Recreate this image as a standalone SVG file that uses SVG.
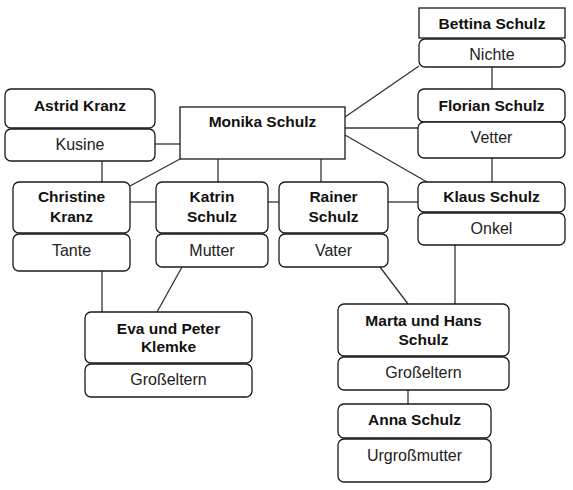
<svg xmlns="http://www.w3.org/2000/svg" width="573" height="490" viewBox="0 0 573 490">
<style>
.b{fill:#fff;stroke:#1a1a1a;stroke-width:1.3}
.n{font-family:"Liberation Sans",Arial,sans-serif;font-size:15.5px;font-weight:bold;fill:#111;text-anchor:middle}
.r{font-family:"Liberation Sans",Arial,sans-serif;font-size:16px;fill:#222;text-anchor:middle}
.c line{stroke:#333;stroke-width:1.3}
</style>
<rect width="573" height="490" fill="#fff"/>
<g class="c" id="connectors">
<line x1="155" y1="144" x2="180" y2="144"/>
<line x1="102" y1="161" x2="102" y2="182"/>
<line x1="130" y1="186" x2="180" y2="159"/>
<line x1="218" y1="159" x2="218" y2="182"/>
<line x1="321" y1="159" x2="321" y2="182"/>
<line x1="345" y1="117" x2="419" y2="66"/>
<line x1="345" y1="128" x2="418" y2="128"/>
<line x1="345" y1="135" x2="427" y2="182"/>
<line x1="492" y1="67" x2="492" y2="89"/>
<line x1="492" y1="158" x2="492" y2="182"/>
<line x1="130" y1="202" x2="156" y2="202"/>
<line x1="268" y1="202" x2="279" y2="202"/>
<line x1="388" y1="202" x2="418" y2="202"/>
<line x1="102" y1="271" x2="102" y2="312"/>
<line x1="182" y1="267" x2="157" y2="312"/>
<line x1="380" y1="267" x2="408" y2="304"/>
<line x1="455" y1="245" x2="455" y2="304"/>
<line x1="408" y1="390" x2="408" y2="404"/>
</g>
<g id="astrid">
<rect class="b" x="5" y="89" width="150" height="39" rx="6"/>
<text class="n" x="80" y="111">Astrid Kranz</text>
<rect class="b" x="5" y="129" width="150" height="32" rx="6"/>
<text class="r" x="80" y="150">Kusine</text>
</g>
<g id="monika">
<rect class="b" x="180" y="107" width="165" height="52"/>
<text class="n" x="262.5" y="127">Monika Schulz</text>
</g>
<g id="bettina">
<rect class="b" x="419" y="8" width="146" height="30"/>
<text class="n" x="492" y="29">Bettina Schulz</text>
<rect class="b" x="419" y="39" width="146" height="28" rx="6"/>
<text class="r" x="492" y="60">Nichte</text>
</g>
<g id="florian">
<rect class="b" x="418" y="89" width="147" height="33" rx="6"/>
<text class="n" x="491.5" y="111">Florian Schulz</text>
<rect class="b" x="418" y="122" width="147" height="36" rx="6"/>
<text class="r" x="491.5" y="143">Vetter</text>
</g>
<g id="klaus">
<rect class="b" x="418" y="182" width="147" height="30" rx="6"/>
<text class="n" x="491.5" y="202">Klaus Schulz</text>
<rect class="b" x="418" y="213" width="147" height="32" rx="6"/>
<text class="r" x="491.5" y="234">Onkel</text>
</g>
<g id="christine">
<rect class="b" x="13" y="182" width="117" height="51" rx="6"/>
<text class="n" x="71.5" y="202">Christine</text>
<text class="n" x="71.5" y="222">Kranz</text>
<rect class="b" x="13" y="234" width="117" height="37" rx="6"/>
<text class="r" x="71.5" y="256">Tante</text>
</g>
<g id="katrin">
<rect class="b" x="156" y="182" width="112" height="51" rx="6"/>
<text class="n" x="212" y="202">Katrin</text>
<text class="n" x="212" y="222">Schulz</text>
<rect class="b" x="156" y="234" width="112" height="33" rx="6"/>
<text class="r" x="212" y="256">Mutter</text>
</g>
<g id="rainer">
<rect class="b" x="279" y="182" width="109" height="51" rx="6"/>
<text class="n" x="333.5" y="202">Rainer</text>
<text class="n" x="333.5" y="222">Schulz</text>
<rect class="b" x="279" y="234" width="109" height="33" rx="6"/>
<text class="r" x="333.5" y="256">Vater</text>
</g>
<g id="eva">
<rect class="b" x="85" y="312" width="167" height="51" rx="6"/>
<text class="n" x="168.5" y="334">Eva und Peter</text>
<text class="n" x="168.5" y="352">Klemke</text>
<rect class="b" x="85" y="364" width="167" height="33" rx="6"/>
<text class="r" x="168.5" y="385">Großeltern</text>
</g>
<g id="marta">
<rect class="b" x="338" y="304" width="171" height="52" rx="6"/>
<text class="n" x="423.5" y="326">Marta und Hans</text>
<text class="n" x="423.5" y="345">Schulz</text>
<rect class="b" x="338" y="357" width="171" height="33" rx="6"/>
<text class="r" x="423.5" y="378">Großeltern</text>
</g>
<g id="anna">
<rect class="b" x="338" y="404" width="153" height="34" rx="6"/>
<text class="n" x="414.5" y="425">Anna Schulz</text>
<rect class="b" x="338" y="439" width="153" height="43" rx="6"/>
<text class="r" x="414.5" y="461">Urgroßmutter</text>
</g>
</svg>
